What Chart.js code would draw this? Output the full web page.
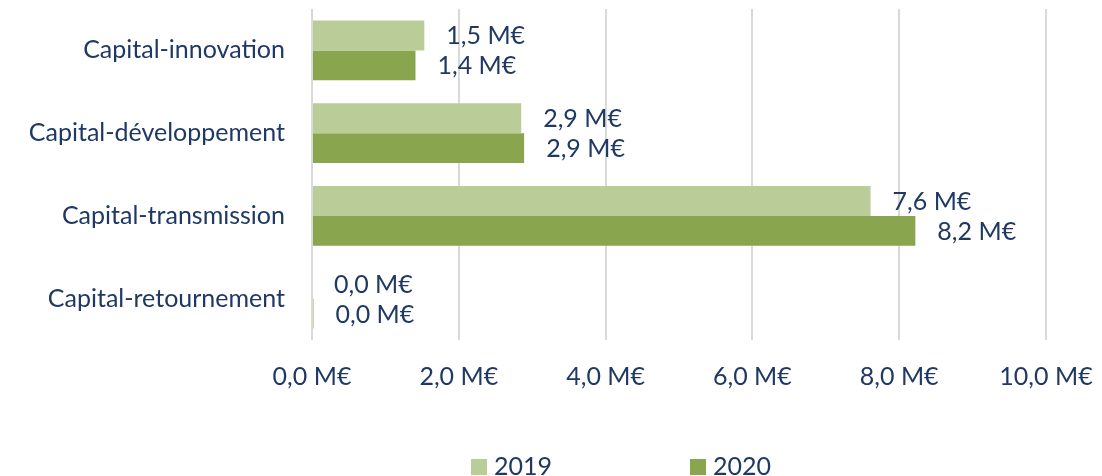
<!DOCTYPE html>
<html>
<head>
<meta charset="utf-8">
<script src="https://cdn.jsdelivr.net/npm/chart.js@4/dist/chart.umd.min.js"></script>
<style>
html,body{margin:0;padding:0;background:#fff;}
#wrap{width:1102px;height:476px;position:relative;}
</style>
</head>
<body>
<div id="wrap"><canvas id="c" width="1102" height="476"></canvas></div>
<script>
const categories = ['Capital-innovation', 'Capital-développement', 'Capital-transmission', 'Capital-retournement'];
const values2019 = [1.53, 2.85, 7.61, 0.0];
const values2020 = [1.41, 2.89, 8.22, 0.02];
const seriesLabels = ['2019', '2020'];
const tickValues = [0, 2, 4, 6, 8, 10];

const FONT = 'Lato, "Open Sans", sans-serif';
const FSIZE = 25;
const TEXT = '#1F3864';
const fmt = v => v.toFixed(1).replace('.', ',') + ' M€';

const labelPlugin = {
  id: 'barLabels',
  afterDatasetsDraw(chart) {
    const ctx = chart.ctx;
    ctx.save();
    ctx.font = FSIZE + 'px ' + FONT;
    ctx.fillStyle = TEXT;
    ctx.textAlign = 'left';
    ctx.textBaseline = 'middle';
    chart.data.datasets.forEach((ds, di) => {
      const meta = chart.getDatasetMeta(di);
      meta.data.forEach((el, i) => {
        ctx.fillText(fmt(ds.data[i]), el.x + 22, el.y + 1);
      });
    });
    ctx.restore();
  }
};

const legendPlugin = {
  id: 'customLegend',
  afterDraw(chart) {
    const ctx = chart.ctx;
    ctx.save();
    ctx.font = FSIZE + 'px ' + FONT;
    ctx.textBaseline = 'middle';
    ctx.textAlign = 'left';
    const startX = 471, y = 467, spacing = 219, box = 16;
    chart.data.datasets.forEach((ds, i) => {
      const x = startX + i * spacing;
      ctx.fillStyle = ds.backgroundColor;
      ctx.fillRect(x, y - box / 2, box, box);
      ctx.fillStyle = TEXT;
      ctx.fillText(ds.label, x + box + 7, y);
    });
    ctx.restore();
  }
};

new Chart(document.getElementById('c'), {
  type: 'bar',
  data: {
    labels: categories,
    datasets: [
      { label: seriesLabels[0], data: values2019, backgroundColor: '#BACD98', borderWidth: 0 },
      { label: seriesLabels[1], data: values2020, backgroundColor: '#89A54E', borderWidth: 0 }
    ]
  },
  options: {
    indexAxis: 'y',
    responsive: false,
    animation: false,
    categoryPercentage: 0.725,
    barPercentage: 1.0,
    layout: { padding: { top: 9, right: 56, bottom: 84, left: 0 } },
    plugins: {
      legend: { display: false },
      tooltip: { enabled: false }
    },
    scales: {
      x: {
        min: 0, max: 10,
        afterBuildTicks(scale) { scale.ticks = tickValues.map(v => ({ value: v })); },
        afterFit(scale) { scale.paddingLeft = 0; scale.paddingRight = 0; scale.height = 52; },
        ticks: {
          callback: v => fmt(v),
          font: { family: FONT, size: FSIZE },
          color: TEXT,
          padding: 22,
          maxRotation: 0
        },
        grid: { color: '#D9D9D9', lineWidth: 2, drawTicks: false },
        border: { display: false }
      },
      y: {
        afterFit(scale) { scale.width = 312; scale.paddingTop = 0; scale.paddingBottom = 0; },
        ticks: {
          font: { family: FONT, size: FSIZE },
          color: TEXT,
          padding: 27
        },
        grid: { display: false, drawTicks: false },
        border: { display: false }
      }
    }
  },
  plugins: [labelPlugin, legendPlugin]
});
</script>
</body>
</html>
